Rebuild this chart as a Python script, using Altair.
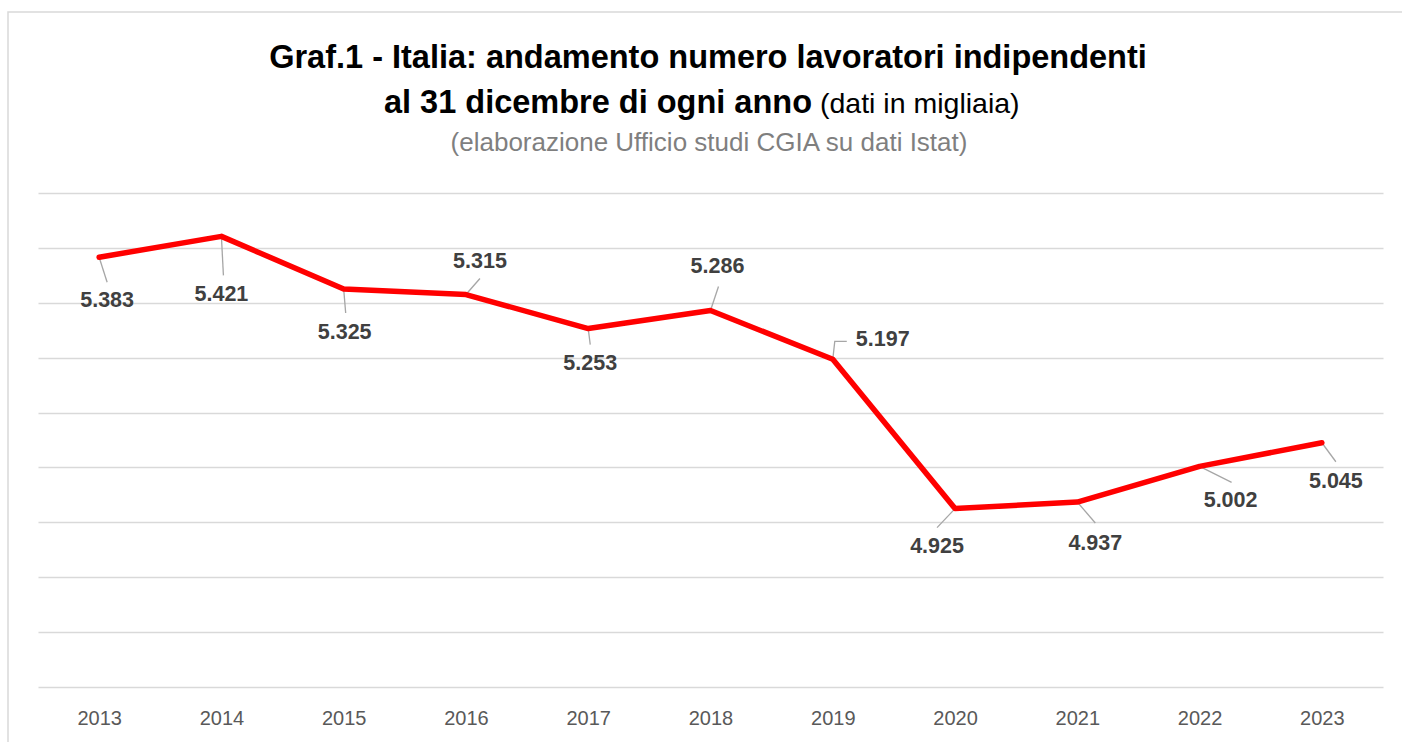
import altair as alt
import pandas as pd

# ---------------- data ----------------
years = [2013, 2014, 2015, 2016, 2017, 2018, 2019, 2020, 2021, 2022, 2023]
values = [5383, 5421, 5325, 5315, 5253, 5286, 5197, 4925, 4937, 5002, 5045]  # thousands
grid_values = [4600, 4700, 4800, 4900, 5000, 5100, 5200, 5300, 5400, 5500]

title_line1 = "Graf.1 - Italia: andamento numero lavoratori indipendenti"
title_line2_bold = "al 31 dicembre di ogni anno"
title_line2_normal = "(dati in migliaia)"
subtitle = "(elaborazione Ufficio studi CGIA su dati Istat)"

# ---------------- style / layout ----------------
W, H = 1345, 494
PAD = {"left": 38, "top": 193, "right": 19, "bottom": 55}
X_DOMAIN = [2012.5, 2023.5]
Y_DOMAIN = [4600, 5500]
PX_X = W / (X_DOMAIN[1] - X_DOMAIN[0])
PX_Y = H / (Y_DOMAIN[1] - Y_DOMAIN[0])

FONT = "Liberation Sans"

# label offsets in pixels (dx right, dy down) from each point
label_off = [(8, 44), (0, 59), (1, 44), (14, -33), (2, 35), (7, -43),
             (50, -19), (-18, 38), (18, 42), (31, 35), (14, 39)]
# leader line vertices in pixels from each point
leader_pts = [
    [(0, 0), (8, 25)],
    [(0, 0), (2, 39)],
    [(0, 0), (2, 24)],
    [(0, 0), (14, -16)],
    [(0, 0), (2, 16)],
    [(0, 0), (8, -24)],
    [(0, 0), (2, -18), (14, -18)],
    [(0, 0), (-18, 19)],
    [(0, 0), (18, 21)],
    [(0, 0), (32, 16)],
    [(0, 0), (14, 19)],
]

def fmt_it(v):
    return f"{v:,}".replace(",", ".")

df = pd.DataFrame({"year": years, "value": values})

lab_rows = []
for yr, v, (dx, dy) in zip(years, values, label_off):
    lab_rows.append({"lx": yr + dx / PX_X, "ly": v - dy / PX_Y, "txt": fmt_it(v)})
lab_df = pd.DataFrame(lab_rows)

lead_rows = []
for yr, v, pts in zip(years, values, leader_pts):
    for k, (dx, dy) in enumerate(pts):
        lead_rows.append({"id": yr, "k": k, "lx": yr + dx / PX_X, "ly": v - dy / PX_Y})
lead_df = pd.DataFrame(lead_rows)

xs = alt.Scale(domain=X_DOMAIN, nice=False, zero=False)
ys = alt.Scale(domain=Y_DOMAIN, nice=False, zero=False)

x_axis = alt.Axis(values=years, format="d", title=None, grid=False, domain=False,
                  ticks=False, labelFontSize=20, labelColor="#595959", labelFont=FONT,
                  labelPadding=21)
y_axis = alt.Axis(values=grid_values, title=None, grid=True, labels=False, ticks=False,
                  domain=False, gridColor="#d9d9d9", gridWidth=1.5)

base = alt.Chart(df)

line = base.mark_line(color="#ff0000", strokeWidth=5.5, strokeCap="round",
                      strokeJoin="round").encode(
    x=alt.X("year:Q", scale=xs, axis=x_axis),
    y=alt.Y("value:Q", scale=ys, axis=y_axis),
)

leaders = alt.Chart(lead_df).mark_line(color="#a6a6a6", strokeWidth=1.3).encode(
    x=alt.X("lx:Q", scale=xs),
    y=alt.Y("ly:Q", scale=ys),
    detail="id:N",
    order="k:Q",
)

labels = alt.Chart(lab_df).mark_text(font=FONT, fontSize=21.5, fontWeight="bold",
                                      color="#404040", align="center",
                                      baseline="middle").encode(
    x=alt.X("lx:Q", scale=xs),
    y=alt.Y("ly:Q", scale=ys),
    text="txt:N",
)

def txt(s, x, y, size, weight, color, align):
    return alt.Chart(pd.DataFrame({"t": [s]})).mark_text(
        font=FONT, fontSize=size, fontWeight=weight, color=color, align=align,
        baseline="alphabetic").encode(text="t:N", x=alt.value(x), y=alt.value(y))

OX, OY = PAD["left"], PAD["top"]
t1 = txt(title_line1, 708 - OX, 68 - OY, 32.5, "bold", "#000000", "center")
t2a = txt(title_line2_bold, 812 - OX, 113 - OY, 32.5, "bold", "#000000", "right")
t2b = txt(title_line2_normal, 820 - OX, 113 - OY, 28.5, "normal", "#000000", "left")
t3 = txt(subtitle, 709 - OX, 151 - OY, 26, "normal", "#7f7f7f", "center")

border = alt.Chart(pd.DataFrame({"a": [0]})).mark_rect(
    fillOpacity=0, stroke="#d9d9d9", strokeWidth=1.5).encode(
    x=alt.value(8 - OX), x2=alt.value(1420 - OX),
    y=alt.value(12 - OY), y2=alt.value(760 - OY),
)

chart = alt.layer(border, leaders, line, labels, t1, t2a, t2b, t3).properties(
    width=W, height=H, padding=PAD,
    autosize=alt.AutoSizeParams(type="none"),
    background="white",
).configure_view(stroke=None)

chart.save("out.html", embed_options={"renderer": "svg", "actions": False})
